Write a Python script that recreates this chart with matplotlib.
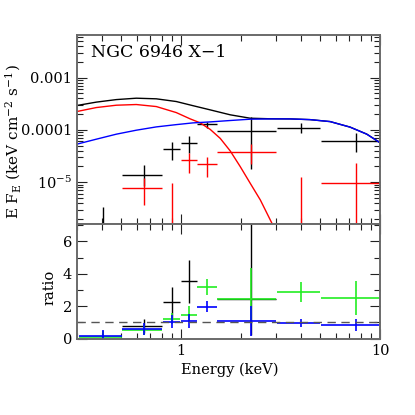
import matplotlib
matplotlib.use('Agg')
import matplotlib.pyplot as plt
from matplotlib.ticker import FixedLocator, LogLocator, MultipleLocator, NullFormatter, FixedFormatter

plt.rcParams['font.family'] = ['DejaVu Serif']
plt.rcParams['mathtext.fontset'] = 'dejavuserif'

# ---------------- data ----------------
# energy bins (keV)
e_lo = [0.307, 0.506, 0.81, 1.003, 1.203, 1.515, 3.02, 5.03]
e_hi = [0.506, 0.805, 0.992, 1.203, 1.515, 3.0, 4.98, 9.97]
e_mid = [0.405, 0.655, 0.901, 1.10, 1.35, 2.25, 4.0, 7.53]

# unfolded spectrum, black data (keV cm^-2 s^-1)
blk_f = [1.2e-6, 1.38e-5, 4.34e-5, 5.57e-5, 1.28e-4, 9.7e-5, 1.08e-4, 6.24e-5]
blk_lo = [1.0e-7, 8.5e-6, 2.67e-5, 3.58e-5, 1.08e-4, 1.77e-5, 8.87e-5, 3.75e-5]
blk_hi = [3.42e-6, 2.14e-5, 5.97e-5, 7.67e-5, 1.44e-4, 1.75e-4, 1.34e-4, 8.87e-5]

# red data (bins 1..7)
red_bins = [1, 2, 3, 4, 5, 6, 7]
red_f = [7.67e-6, 1.0e-6, 2.67e-5, 2.21e-5, 3.85e-5, 1.0e-6, 9.7e-6]
red_lo = [3.68e-6, 1e-7, 1.53e-5, 1.28e-5, 2.2e-5, 1e-7, 1e-7]
red_hi = [1.19e-5, 9.57e-6, 3.58e-5, 3.09e-5, 5.4e-5, 1.28e-5, 2.3e-5]

# model curves
mod_tot_e = [0.3, 0.376, 0.474, 0.597, 0.752, 0.947, 1.148, 1.402, 1.766, 2.224,
             2.80, 3.53, 4.44, 5.60, 7.05, 8.55, 10.0]
mod_tot_f = [2.92e-4, 3.39e-4, 3.79e-4, 4.03e-4, 3.92e-4, 3.48e-4, 2.9e-4, 2.41e-4,
             1.94e-4, 1.67e-4, 1.63e-4, 1.62e-4, 1.57e-4, 1.44e-4, 1.13e-4, 8.3e-5, 5.65e-5]
mod_red_e = [0.3, 0.376, 0.474, 0.597, 0.752, 0.947, 1.113, 1.249, 1.402, 1.574,
             1.766, 1.982, 2.224, 2.50, 2.86, 2.97]
mod_red_f = [2.24e-4, 2.67e-4, 2.96e-4, 3.05e-4, 2.79e-4, 2.14e-4, 1.62e-4, 1.36e-4,
             1.02e-4, 6.87e-5, 3.96e-5, 1.99e-5, 9.57e-6, 4.59e-6, 1.64e-6, 1.12e-6]
mod_blu_e = [0.3, 0.376, 0.474, 0.597, 0.752, 0.947, 1.148, 1.402, 1.766, 2.224,
             2.80, 3.53, 4.44, 5.60, 7.05, 8.55, 10.0]
mod_blu_f = [5.33e-5, 6.64e-5, 8.28e-5, 9.86e-5, 1.14e-4, 1.26e-4, 1.36e-4, 1.42e-4,
             1.51e-4, 1.60e-4, 1.62e-4, 1.62e-4, 1.57e-4, 1.44e-4, 1.13e-4, 8.28e-5, 5.64e-5]

# ratio panel
rb_bins = [1, 2, 3, 5]
rb_val = [0.76, 2.28, 3.55, 2.43]
rb_lo = [0.35, 1.15, 2.18, 0.23]
rb_hi = [1.2, 3.2, 4.85, 7.5]

rg_val = [0.13, 0.52, 1.19, 1.46, 3.17, 2.43, 2.9, 2.53]
rg_lo = [0.02, 0.25, 0.9, 1.05, 2.69, 1.0, 2.28, 1.46]
rg_hi = [0.45, 0.85, 1.56, 2.03, 3.68, 4.37, 3.51, 3.56]

rbl_val = [0.17, 0.60, 1.05, 1.11, 1.97, 1.11, 0.99, 0.84]
rbl_lo = [0.0, 0.23, 0.64, 0.68, 1.66, 0.19, 0.74, 0.49]
rbl_hi = [0.54, 0.95, 1.46, 1.5, 2.32, 2.0, 1.19, 1.21]

title = "NGC 6946 X\u22121"

# ---------------- figure ----------------
fig = plt.figure(figsize=(4.15, 4.15), dpi=100)
ax1 = fig.add_axes([0.185, 0.4595, 0.7314, 0.4562])
ax2 = fig.add_axes([0.185, 0.184, 0.7314, 0.2755])

GREEN = '#22ee22'

def ebar(ax, idx, y, lo, hi, color, lw=1.0):
    xs = [e_mid[i] for i in idx]
    xl = [e_mid[i] - e_lo[i] for i in idx]
    xh = [e_hi[i] - e_mid[i] for i in idx]
    yl = [v - l for v, l in zip(y, lo)]
    yh = [h - v for v, h in zip(y, hi)]
    ax.errorbar(xs, y, xerr=[xl, xh], yerr=[yl, yh], fmt='none',
                ecolor=color, elinewidth=lw, capsize=0)

all_idx = list(range(8))
ebar(ax1, all_idx, blk_f, blk_lo, blk_hi, 'black')
ebar(ax1, red_bins, red_f, red_lo, red_hi, 'red')
ax1.plot(mod_tot_e, mod_tot_f, color='black', lw=1.0)
ax1.plot(mod_red_e, mod_red_f, color='red', lw=1.0)
ax1.plot(mod_blu_e, mod_blu_f, color='blue', lw=1.0)

ebar(ax2, rb_bins, rb_val, rb_lo, rb_hi, 'black')
ebar(ax2, all_idx, rg_val, rg_lo, rg_hi, GREEN, lw=1.2)
ebar(ax2, all_idx, rbl_val, rbl_lo, rbl_hi, 'blue', lw=1.2)
ax2.axhline(1.0, color='#555555', lw=1.0, ls=(0, (6, 4)))

for ax in (ax1, ax2):
    ax.set_xscale('log')
    ax.set_xlim(0.3, 10)
    ax.xaxis.set_major_locator(FixedLocator([1, 10]))
    ax.xaxis.set_minor_locator(LogLocator(base=10, subs=[2, 3, 4, 5, 6, 7, 8, 9]))
    ax.xaxis.set_minor_formatter(NullFormatter())
    ax.tick_params(which='both', direction='in', top=True, right=True, color='#222222', width=0.8)
    ax.tick_params(which='major', length=7)
    ax.tick_params(which='minor', length=4)
    for s in ax.spines.values():
        s.set_color('#6a6a6a')
        s.set_linewidth(1.4)

ax1.set_yscale('log')
ax1.set_ylim(1.57e-6, 6.5e-3)
ax1.yaxis.set_major_locator(FixedLocator([1e-5, 1e-4, 1e-3]))
ax1.yaxis.set_major_formatter(FixedFormatter(['$10^{-5}$', '0.0001', '0.001']))
ax1.yaxis.set_minor_locator(LogLocator(base=10, subs=[2, 3, 4, 5, 6, 7, 8, 9]))
ax1.yaxis.set_minor_formatter(NullFormatter())
ax1.tick_params(axis='x', labelbottom=False)
ax1.tick_params(axis='y', labelsize=10.5)

ax2.set_ylim(0, 7.05)
ax2.yaxis.set_major_locator(MultipleLocator(2))
ax2.yaxis.set_minor_locator(MultipleLocator(1))
ax2.xaxis.set_major_formatter(FixedFormatter(['1', '10']))
ax2.tick_params(labelsize=10.5)

ax1.text(0.047, 0.884, title, transform=ax1.transAxes,
         fontsize=12.5, ha='left', va='baseline')

fig.text(13 / 415, 1 - 142 / 415, 'E F$_\\mathrm{E}$ (keV cm$^{-2}$ s$^{-1}$)',
         rotation=90, ha='center', va='center', fontsize=11)
fig.text(49 / 415, 1 - 287 / 415, 'ratio', rotation=90, ha='center', va='center', fontsize=10.5)
fig.text(230 / 415, 1 - 370 / 415, 'Energy (keV)', ha='center', va='center', fontsize=10.5)

fig.savefig('out.png', dpi=100)
